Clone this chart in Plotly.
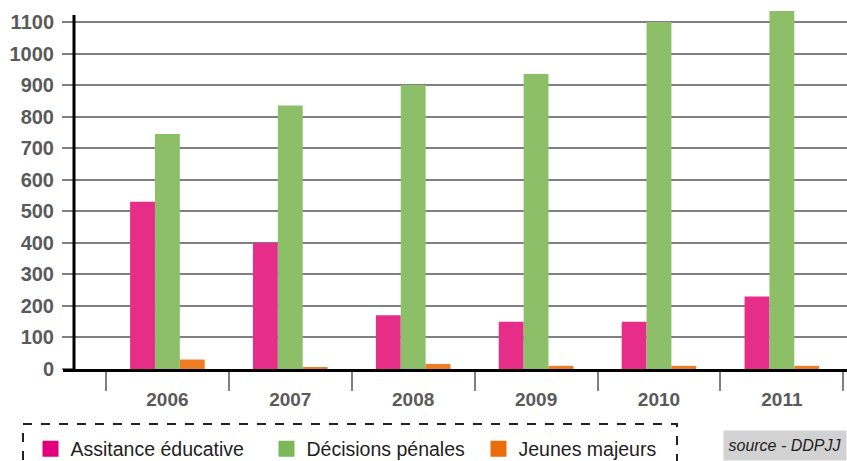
import plotly.graph_objects as go

# Effectifs suivis par année et par type de mesure
years = ["2006", "2007", "2008", "2009", "2010", "2011"]
assistance_educative = [530, 400, 170, 150, 150, 230]
decisions_penales = [745, 835, 900, 935, 1100, 1135]
jeunes_majeurs = [30, 6, 16, 10, 10, 10]

y_ticks = [0, 100, 200, 300, 400, 500, 600, 700, 800, 900, 1000, 1100]

series = [
    ("Assitance éducative", assistance_educative, "#E62E89", "#E2007A", "legend", 30.5),
    ("Décisions pénales", decisions_penales, "#8CBF68", "#7DB858", "legend2", 266.5),
    ("Jeunes majeurs", jeunes_majeurs, "#EE7D26", "#EC6C0A", "legend3", 478.5),
]

W, H = 847, 461
ML, MR, MT, MB = 74, 0, 8, 92
plot_w = W - ML - MR
plot_h = H - MT - MB
scale = (369 - 22) / 1100          # pixels par unité
y_top = plot_h / scale


def py(px):
    """Ordonnée en pixels -> coordonnée papier."""
    return (H - MB - px) / plot_h


def px_x(px):
    """Abscisse en pixels -> coordonnée papier."""
    return (px - ML) / plot_w


legend_font = dict(family="Liberation Sans, Arial, sans-serif", size=19.5, color="#222222")

fig = go.Figure()
legends = {}
for name, values, color, key_color, leg, leg_x in series:
    fig.add_trace(go.Bar(x=years, y=values, name=name, showlegend=False,
                         marker=dict(color=color, line=dict(width=0))))
    # entrée de légende avec un carré plein
    fig.add_trace(go.Scatter(x=[None], y=[None], mode="markers", name=name, legend=leg,
                             marker=dict(symbol="square", size=16, color=key_color)))
    legends[leg] = dict(x=px_x(leg_x), y=py(449), xref="paper", yref="paper",
                        xanchor="left", yanchor="middle", orientation="h",
                        font=legend_font, bgcolor="rgba(0,0,0,0)", borderwidth=0,
                        itemsizing="trace", itemclick=False, itemdoubleclick=False)

fig.update_layout(
    width=W, height=H,
    margin=dict(l=ML, r=MR, t=MT, b=MB, pad=0, autoexpand=False),
    paper_bgcolor="white", plot_bgcolor="white",
    barmode="group", bargap=0.393, bargroupgap=0,
    showlegend=True,
    **legends,
    xaxis=dict(
        type="category", range=[-0.76, 5.53],
        tickson="boundaries", ticks="outside", ticklen=21, tickwidth=2,
        tickcolor="#808080", showgrid=False, showline=False, zeroline=False,
        tickfont=dict(family="Liberation Sans Narrow, Arial Narrow, sans-serif",
                      size=19, color="#5a5a5a", weight="bold"),
        ticklabelstandoff=17,
    ),
    yaxis=dict(
        range=[0, y_top], tickvals=y_ticks, ticktext=[str(v) for v in y_ticks],
        ticks="outside", ticklen=11, tickwidth=2, tickcolor="#808080",
        showgrid=True, gridcolor="#808080", gridwidth=2,
        showline=False, zeroline=False, ticklabelstandoff=4,
        tickfont=dict(family="Liberation Sans Narrow, Arial Narrow, sans-serif",
                      size=20, color="#5a5a5a", weight="bold"),
    ),
    shapes=[
        # axe vertical
        dict(type="line", xref="paper", yref="paper", x0=0, x1=0, y0=py(372), y1=py(15),
             line=dict(color="black", width=3), layer="above"),
        # axe horizontal prolongé vers la gauche, juste sous le zéro
        dict(type="line", xref="paper", yref="paper", x0=px_x(63), x1=1,
             y0=py(370.5), y1=py(370.5),
             line=dict(color="black", width=3), layer="above"),
        # cadre pointillé de la légende
        dict(type="rect", xref="paper", yref="paper",
             x0=px_x(23), x1=px_x(677), y0=py(475), y1=py(424),
             line=dict(color="#222222", width=2, dash="dash"), fillcolor="rgba(0,0,0,0)"),
    ],
    annotations=[
        dict(text="<i>source - DDPJJ</i>", xref="paper", yref="paper",
             x=1, y=py(H), xanchor="right", yanchor="bottom",
             showarrow=False, bgcolor="#d2d2d3", width=120, height=27, borderpad=1,
             font=dict(family="Liberation Sans, Arial, sans-serif", size=16, color="#222222"),
             align="center"),
    ],
)

fig.write_html("out.html")
